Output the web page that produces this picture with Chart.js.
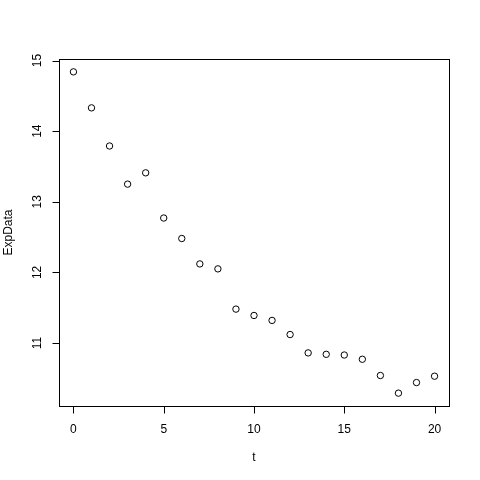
<!DOCTYPE html>
<html><head><meta charset="utf-8">
<script src="https://cdn.jsdelivr.net/npm/chart.js@4/dist/chart.umd.min.js"></script>
<style>html,body{margin:0;padding:0;background:#fff}#wrap{width:480px;height:480px}</style>
</head><body><div id="wrap"><canvas id="c" width="480" height="480"></canvas></div>
<script>
const tValues = [0,1,2,3,4,5,6,7,8,9,10,11,12,13,14,15,16,17,18,19,20];
const expData = [14.84,14.33,13.79,13.25,13.41,12.77,12.48,12.12,12.05,11.48,11.39,11.32,11.12,10.86,10.84,10.83,10.77,10.54,10.29,10.44,10.53];
const xTicks = [0,5,10,15,20];
const yTicks = [11,12,13,14,15];
const xTitle = 't';
const yTitle = 'ExpData';

const FONT = '12px "Liberation Sans", Arial, sans-serif';

const rAxes = {
  id: 'rAxes',
  afterDraw(chart) {
    const ctx = chart.ctx, a = chart.chartArea;
    const xs = chart.scales.x, ys = chart.scales.y;
    ctx.save();
    ctx.strokeStyle = '#000'; ctx.lineWidth = 1;
    ctx.strokeRect(Math.round(a.left)+0.5, Math.round(a.top)+0.5, Math.round(a.right-a.left), Math.round(a.bottom-a.top));
    ctx.fillStyle = '#000'; ctx.font = FONT;
    // x axis
    ctx.beginPath();
    const b = Math.round(a.bottom)+0.5;
    ctx.moveTo(Math.round(xs.getPixelForValue(xTicks[0]))+0.5, b);
    ctx.lineTo(Math.round(xs.getPixelForValue(xTicks[xTicks.length-1]))+0.5, b);
    xTicks.forEach(v => { const p = Math.round(xs.getPixelForValue(v))+0.5; ctx.moveTo(p,b); ctx.lineTo(p,b+7); });
    ctx.stroke();
    ctx.textAlign = 'center'; ctx.textBaseline = 'middle';
    xTicks.forEach(v => ctx.fillText(String(v), xs.getPixelForValue(v), 430));
    ctx.fillText(xTitle, (a.left+a.right)/2, 458);
    // y axis
    ctx.beginPath();
    const l = Math.round(a.left)+0.5;
    ctx.moveTo(l, Math.round(ys.getPixelForValue(yTicks[0]))+0.5);
    ctx.lineTo(l, Math.round(ys.getPixelForValue(yTicks[yTicks.length-1]))+0.5);
    yTicks.forEach(v => { const p = Math.round(ys.getPixelForValue(v))+0.5; ctx.moveTo(l,p); ctx.lineTo(l-7,p); });
    ctx.stroke();
    yTicks.forEach(v => {
      ctx.save(); ctx.translate(38, ys.getPixelForValue(v)); ctx.rotate(-Math.PI/2);
      ctx.fillText(String(v), 0, 0); ctx.restore();
    });
    ctx.save(); ctx.translate(9, (a.top+a.bottom)/2); ctx.rotate(-Math.PI/2);
    ctx.fillText(yTitle, 0, 0); ctx.restore();
    ctx.restore();
  }
};

new Chart(document.getElementById('c'), {
  type: 'scatter',
  data: { datasets: [{
    data: tValues.map((t,i) => ({x: t, y: expData[i]})),
    pointStyle: 'circle', pointRadius: 3.2, borderColor: '#000', backgroundColor: 'rgba(0,0,0,0)', borderWidth: 1
  }]},
  options: {
    responsive: false, animation: false, events: [],
    layout: { padding: { left: 59, right: 31, top: 59, bottom: 74 } },
    plugins: { legend: { display: false }, tooltip: { enabled: false } },
    scales: {
      x: { type: 'linear', display: false, min: -0.8, max: 20.8 },
      y: { type: 'linear', display: false, min: 10.108, max: 15.022 }
    }
  },
  plugins: [rAxes]
});
</script></body></html>
